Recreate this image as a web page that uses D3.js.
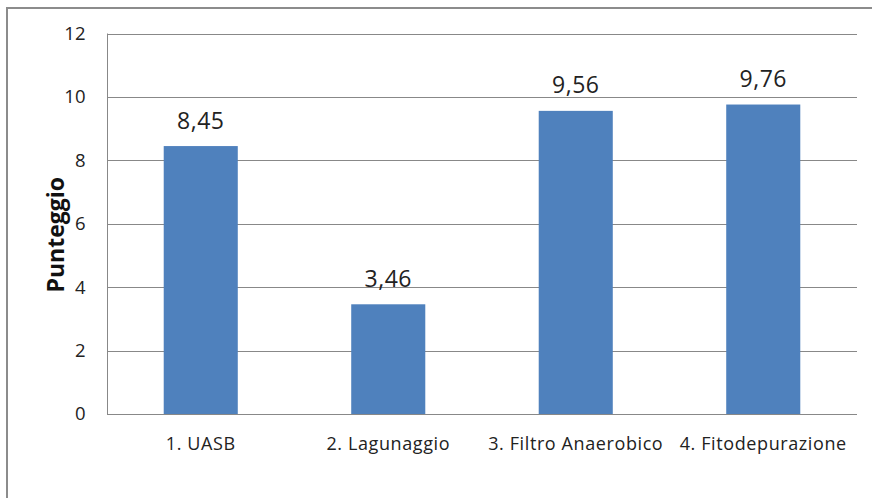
<!DOCTYPE html>
<html>
<head>
<meta charset="utf-8">
<script src="https://cdn.jsdelivr.net/npm/d3@7"></script>
<style>
  html, body { margin: 0; padding: 0; background: #fff; }
  svg { display: block; font-family: "Open Sans", "Noto Sans", sans-serif; }
</style>
</head>
<body>
<svg id="chart" width="872" height="498"></svg>
<script>
// Treatment options and their scores
const categories = ["1. UASB", "2. Lagunaggio", "3. Filtro Anaerobico", "4. Fitodepurazione"];
const scores = [8.45, 3.46, 9.56, 9.76];
const scoreLabels = ["8,45", "3,46", "9,56", "9,76"];
const yTicks = [0, 2, 4, 6, 8, 10, 12];
const yTitle = "Punteggio";

const svg = d3.select("#chart");
const plot = { left: 107, right: 857, top: 33.5, bottom: 414 };

// Outer chart frame (only top and left edges fall inside the canvas)
svg.append("path")
  .attr("d", `M7,498 L7,8 L872,8`)
  .attr("fill", "none")
  .attr("stroke", "#8c8c8c")
  .attr("stroke-width", 2);

const x = d3.scaleBand()
  .domain(categories)
  .range([plot.left, plot.right])
  .paddingInner(0.605)
  .paddingOuter(0.3025);

const y = d3.scaleLinear()
  .domain([0, 12])
  .range([plot.bottom, plot.top]);

// Horizontal gridlines
svg.append("g")
  .selectAll("line")
  .data(yTicks.filter(t => t > 0))
  .join("line")
  .attr("x1", plot.left).attr("x2", plot.right)
  .attr("y1", d => Math.round(y(d)) + 0.5).attr("y2", d => Math.round(y(d)) + 0.5)
  .attr("stroke", "#888")
  .attr("stroke-width", 1);

// Y axis
const yAxis = svg.append("g")
  .attr("transform", `translate(${plot.left + 0.5},0)`)
  .call(d3.axisLeft(y).tickValues(yTicks).tickSize(0).tickPadding(22).tickFormat(d3.format("d")));
yAxis.select(".domain").attr("stroke", "#888").attr("d", `M0,${plot.top}V${plot.bottom}`);
yAxis.selectAll("text")
  .attr("font-family", "'Open Sans', sans-serif")
  .attr("font-size", 18.5)
  .attr("fill", "#222");

// X axis
const xAxis = svg.append("g")
  .attr("transform", `translate(0,${plot.bottom + 0.5})`)
  .call(d3.axisBottom(x).tickSize(0).tickPadding(23));
xAxis.select(".domain").attr("stroke", "#888").attr("d", `M${plot.left},0H${plot.right}`);
xAxis.selectAll("text")
  .attr("font-family", "'Open Sans', sans-serif")
  .attr("font-size", 18)
  .attr("letter-spacing", 0.6)
  .attr("fill", "#222");

// Bars
svg.append("g")
  .selectAll("rect")
  .data(categories)
  .join("rect")
  .attr("x", d => x(d))
  .attr("width", x.bandwidth())
  .attr("y", (d, i) => y(scores[i]))
  .attr("height", (d, i) => plot.bottom - y(scores[i]))
  .attr("fill", "#4f81bd");

// Value labels above the bars
svg.append("g")
  .selectAll("text")
  .data(categories)
  .join("text")
  .attr("x", d => x(d) + x.bandwidth() / 2)
  .attr("y", (d, i) => y(scores[i]) - 17.5)
  .attr("text-anchor", "middle")
  .attr("font-size", 23)
  .attr("letter-spacing", 0.5)
  .attr("fill", "#222")
  .text((d, i) => scoreLabels[i]);

// Y axis title
svg.append("text")
  .attr("transform", `translate(63.5,${(plot.top + plot.bottom) / 2 + 11}) rotate(-90)`)
  .attr("text-anchor", "middle")
  .attr("font-size", 23)
  .attr("font-weight", "bold")
  .attr("fill", "#111")
  .text(yTitle);
</script>
</body>
</html>
